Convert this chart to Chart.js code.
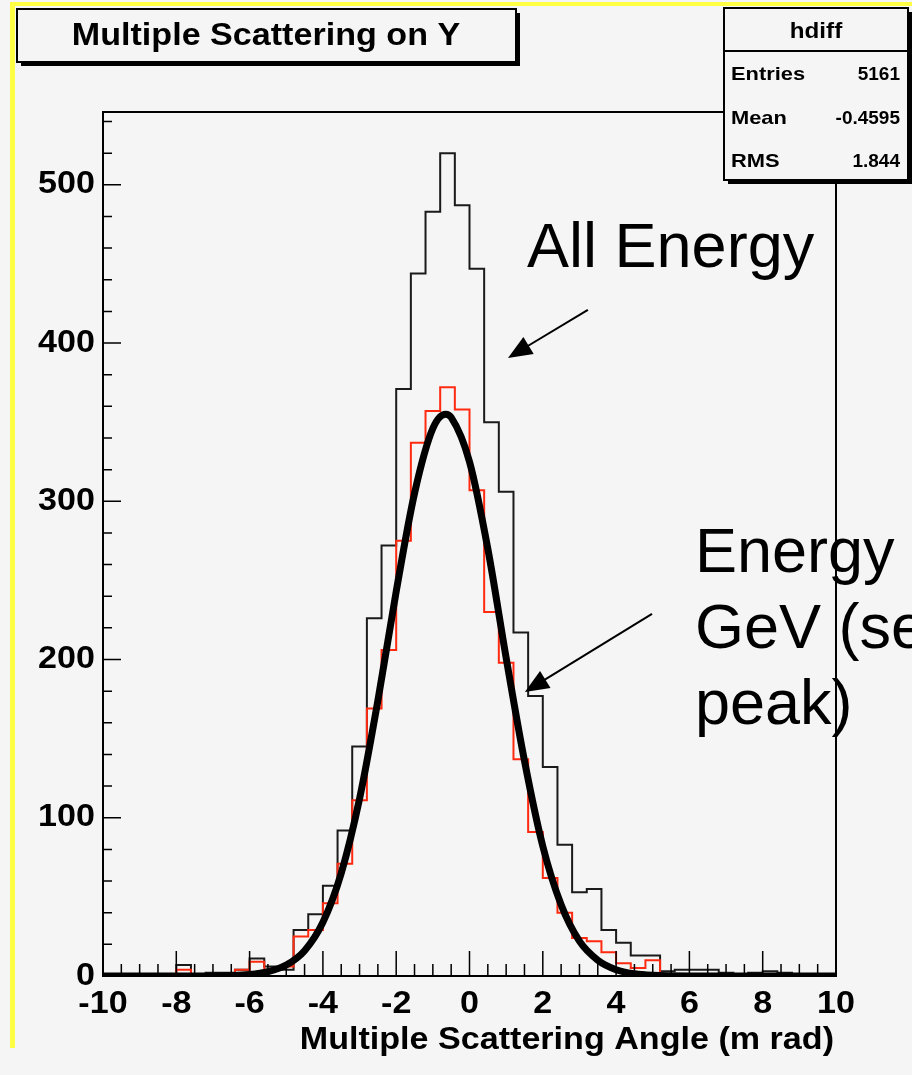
<!DOCTYPE html>
<html>
<head>
<meta charset="utf-8">
<script src="https://cdn.jsdelivr.net/npm/chart.js@4.4.1/dist/chart.umd.min.js"></script>
<style>
  html, body { margin: 0; padding: 0; background: #ffffff; }
  canvas { display: block; }
</style>
</head>
<body>
<canvas id="hist" width="912" height="1075"></canvas>
<script>
// 50 bins, -10 .. 10 mrad
const binLow = -10;
const binWidth = 0.4;

// all energies (black)
const allCounts = [
  0, 0, 0, 0, 0, 7, 0, 2, 2, 4,
  11, 6, 4, 29, 39, 57, 92, 145, 226, 272,
  371, 444, 483, 520, 487, 447, 350, 306, 217, 177,
  132, 83, 53, 55, 29, 21, 13, 13, 3, 4,
  4, 4, 2, 1, 2, 3, 2, 0, 0, 0
];

// energy cut (red)
const cutCounts = [
  0, 0, 0, 0, 0, 4, 0, 1, 1, 4,
  9, 4, 6, 25, 29, 46, 71, 111, 169, 206,
  275, 337, 357, 372, 358, 307, 230, 198, 137, 91,
  62, 40, 24, 22, 15, 8, 5, 10, 0, 0,
  0, 0, 0, 0, 0, 0, 0, 0, 0, 0
];

// gaussian fit to the red histogram, sampled along x
const fitX = [-10, -7, -6, -5.5, -5, -4.5, -4, -3.5, -3, -2.5, -2, -1.5, -1, -0.65, -0.5, 0, 0.5, 1, 1.5, 2, 2.5, 3, 3.5, 4, 4.5, 5, 6, 10];
const fitY = [0, 0, 0.9, 2.7, 6.9, 16, 34, 65, 112, 174, 243, 305, 346, 355, 353, 325, 270, 201, 136, 82, 45, 22, 10, 4, 1.4, 0.4, 0, 0];

const xTicks = [-10, -8, -6, -4, -2, 0, 2, 4, 6, 8, 10];
const yTicks = [0, 100, 200, 300, 400, 500];

const statsRows = [['Entries', '5161'], ['Mean', '-0.4595'], ['RMS', '1.844']];

function histPoints(counts) {
  const pts = counts.map((c, i) => ({ x: binLow + i * binWidth, y: c }));
  pts.push({ x: binLow + counts.length * binWidth, y: counts[counts.length - 1] });
  return pts;
}

const BOLD = '"Liberation Sans", Arial, sans-serif';

// text a bit wider than the font, like the ROOT canvas
function wideText(ctx, s, x, y, size, align, sx) {
  ctx.save();
  ctx.font = 'bold ' + size + 'px ' + BOLD;
  ctx.textAlign = align;
  ctx.textBaseline = 'middle';
  ctx.translate(x, y);
  ctx.scale(sx || 1.1, 1);
  ctx.fillText(s, 0, 0);
  ctx.restore();
}

function arrow(ctx, x1, y1, x2, y2) {
  const a = Math.atan2(y2 - y1, x2 - x1);
  const len = 24, half = 10;
  ctx.beginPath();
  ctx.moveTo(x1, y1);
  ctx.lineTo(x2 - Math.cos(a) * len * 0.8, y2 - Math.sin(a) * len * 0.8);
  ctx.lineWidth = 2;
  ctx.stroke();
  ctx.beginPath();
  ctx.moveTo(x2, y2);
  ctx.lineTo(x2 - Math.cos(a) * len - Math.sin(a) * half, y2 - Math.sin(a) * len + Math.cos(a) * half);
  ctx.lineTo(x2 - Math.cos(a) * len + Math.sin(a) * half, y2 - Math.sin(a) * len - Math.cos(a) * half);
  ctx.closePath();
  ctx.fill();
}

function box(ctx, x, y, w, h) {
  ctx.fillStyle = '#000';
  ctx.fillRect(x + 4, y + 4, w, h);
  ctx.fillStyle = '#f5f5f5';
  ctx.fillRect(x, y, w, h);
  ctx.strokeStyle = '#000';
  ctx.lineWidth = 2;
  ctx.strokeRect(x, y, w, h);
}

const rootPad = {
  id: 'rootPad',
  beforeDraw(chart) {
    const ctx = chart.ctx;
    ctx.save();
    ctx.fillStyle = '#f5f5f5';
    ctx.fillRect(0, 0, chart.width, chart.height);
    ctx.fillStyle = '#ffff44';
    ctx.fillRect(10, 2, chart.width - 10, 4);
    ctx.fillRect(10, 2, 5, 1046);
    ctx.restore();
  },
  afterDatasetsDraw(chart) {
    const ctx = chart.ctx;
    const xs = chart.scales.x, ys = chart.scales.y;
    const a = chart.chartArea;
    ctx.save();
    ctx.strokeStyle = '#000';
    ctx.fillStyle = '#000';
    ctx.lineWidth = 2;
    ctx.strokeRect(a.left, a.top, a.right - a.left, a.bottom - a.top);

    ctx.lineWidth = 1.5;
    ctx.beginPath();
    for (let v = -10; v <= 10.001; v += 0.5) {
      const px = xs.getPixelForValue(v);
      const major = Math.abs(v / 2 - Math.round(v / 2)) < 1e-6;
      ctx.moveTo(px, a.bottom);
      ctx.lineTo(px, a.bottom - (major ? 25 : 12));
    }
    for (let v = 0; v <= 540; v += 20) {
      const py = ys.getPixelForValue(v);
      ctx.moveTo(a.left, py);
      ctx.lineTo(a.left + (v % 100 === 0 ? 18 : 9), py);
    }
    ctx.stroke();

    xTicks.forEach(v => wideText(ctx, String(v), xs.getPixelForValue(v), a.bottom + 28, 31, 'center'));
    yTicks.forEach(v => wideText(ctx, String(v), a.left - 8, ys.getPixelForValue(v), 31, 'right'));
    wideText(ctx, 'Multiple Scattering Angle (m rad)', a.right - 2, a.bottom + 64, 31, 'right');
    ctx.restore();
  },
  afterDraw(chart) {
    const ctx = chart.ctx;
    const xs = chart.scales.x, ys = chart.scales.y;
    const X = v => xs.getPixelForValue(v), Y = v => ys.getPixelForValue(v);
    ctx.save();

    box(ctx, 17, 9, 499, 53);
    ctx.fillStyle = '#000';
    wideText(ctx, 'Multiple Scattering on Y', 266, 36, 31, 'center');

    box(ctx, 724, 8, 184, 172);
    ctx.beginPath();
    ctx.moveTo(724, 51);
    ctx.lineTo(908, 51);
    ctx.stroke();
    ctx.fillStyle = '#000';
    wideText(ctx, 'hdiff', 816, 32, 22, 'center');
    statsRows.forEach((r, i) => {
      wideText(ctx, r[0], 731, 75 + i * 43.5, 19, 'left', 1.15);
      wideText(ctx, r[1], 900, 75 + i * 43.5, 19, 'right', 1.0);
    });

    // annotations
    ctx.fillStyle = '#000';
    ctx.strokeStyle = '#000';
    ctx.font = '63px "Liberation Sans", Arial, sans-serif';
    ctx.textAlign = 'left';
    ctx.textBaseline = 'alphabetic';
    ctx.fillText('All Energy', X(1.57), Y(448));
    ['Energy', 'GeV (see', 'peak)'].forEach((s, i) => ctx.fillText(s, X(6.15), Y(255.4 - i * 48)));
    arrow(ctx, X(3.23), Y(421), X(1.05), Y(390.6));
    arrow(ctx, X(4.98), Y(228.8), X(1.51), Y(179.5));
    ctx.restore();
  }
};

new Chart(document.getElementById('hist').getContext('2d'), {
  type: 'line',
  data: {
    datasets: [{
      label: 'fit',
      data: fitX.map((x, i) => ({ x: x, y: fitY[i] })),
      borderColor: '#000',
      borderWidth: 7,
      cubicInterpolationMode: 'monotone',
      pointRadius: 0,
      fill: false,
      order: 0
    }, {
      label: 'energy cut',
      data: histPoints(cutCounts),
      borderColor: '#ff2a10',
      borderWidth: 2,
      stepped: 'before',
      pointRadius: 0,
      fill: false,
      order: 1
    }, {
      label: 'all energy',
      data: histPoints(allCounts),
      borderColor: '#1a1a1a',
      borderWidth: 2,
      stepped: 'before',
      pointRadius: 0,
      fill: false,
      order: 2
    }]
  },
  options: {
    responsive: false,
    animation: false,
    devicePixelRatio: 1,
    layout: { padding: { left: 103, right: 76, top: 112, bottom: 99 } },
    scales: {
      x: { type: 'linear', min: -10, max: 10, display: false },
      y: { type: 'linear', min: 0, max: 546, display: false }
    },
    plugins: { legend: { display: false }, tooltip: { enabled: false } }
  },
  plugins: [rootPad]
});
</script>
</body>
</html>
